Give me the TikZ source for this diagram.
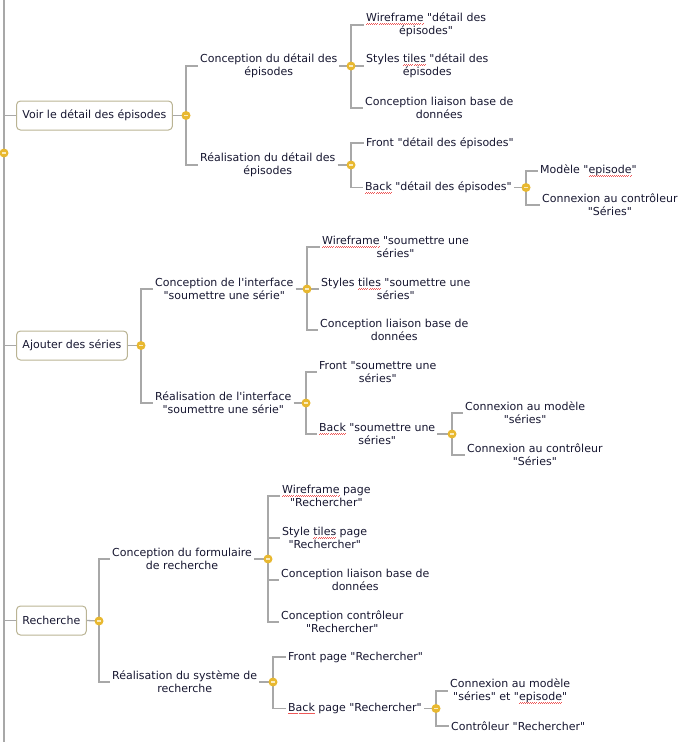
\documentclass[tikz,border=0pt]{standalone}
\usepackage{fontspec}
\setmainfont{DejaVu Sans}[Ligatures=TeXOff]
\usetikzlibrary{backgrounds}
\definecolor{branchgray}{RGB}{168,168,168}
\definecolor{boxline}{RGB}{186,180,148}
\definecolor{knobfill}{RGB}{232,184,48}
\definecolor{knobbar}{RGB}{250,236,190}
\definecolor{inktext}{RGB}{22,22,48}
\definecolor{spellred}{RGB}{238,88,88}
\newsavebox\fautebox
\newcommand\faute[1]{\sbox\fautebox{#1}\leavevmode\rlap{\hbox to\wd\fautebox{\color{spellred}\xleaders\hbox{\rule[-3.3pt]{1pt}{0.9pt}\rule[-2.5pt]{1pt}{0.9pt}}\hfil}}\usebox\fautebox}
\begin{document}
\begin{tikzpicture}[x=1pt,y=-1pt,
  topic/.style={draw=boxline, line width=1pt, rounded corners=4pt, fill=white, anchor=west, minimum height=29pt, inner xsep=6pt, font=\fontsize{11}{13}\selectfont, text=inktext},
  leaf/.style={anchor=west, align=center, inner xsep=2pt, inner ysep=0pt, font=\fontsize{11}{13}\selectfont, text=inktext},
  knob/.style={circle, fill=knobfill, minimum size=9pt, inner sep=0pt, path picture={\fill[knobbar] ([xshift=-2pt,yshift=-0.6pt]path picture bounding box.center) rectangle ++(4pt,1.2pt);}},
  branch/.style={draw=branchgray, line width=1.3pt}]
\useasboundingbox (0,0) rectangle (687,742);
\coordinate (rtop) at (4,-2);
\coordinate (rbot) at (4,744);
\node[knob] (k0) at (4,153) {};
\node[topic] (v1) at (16,115.5) {Voir le détail des épisodes};
\node[topic] (v2) at (16,345.5) {Ajouter des séries};
\node[topic] (v3) at (16,620.5) {Recherche};
\node[knob] (k1) at (186,115.5) {};
\node[knob] (k2) at (141,345.5) {};
\node[knob] (k3) at (99,621) {};
\node[leaf] (a1) at (198,66) {Conception du détail des\\épisodes};
\node[leaf] (a2) at (198,165) {Réalisation du détail des\\épisodes};
\node[knob] (k11) at (351,66) {};
\node[knob] (k12) at (351,165) {};
\node[leaf] (a11) at (364,25) {\faute{Wireframe} "détail des\\épisodes"};
\node[leaf] (a12) at (364,66) {Styles \faute{tiles} "détail des\\épisodes};
\node[leaf] (a13) at (363,108) {Conception liaison base de\\données};
\node[leaf] (a21) at (364,143) {Front "détail des épisodes"};
\node[leaf] (a22) at (363,187.5) {\faute{Back} "détail des épisodes"};
\node[knob] (k122) at (526,187.5) {};
\node[leaf] (a221) at (538,171) {Modèle "\faute{episode}"};
\node[leaf] (a222) at (540,205) {Connexion au contrôleur\\"Séries"};
\node[leaf] (b1) at (153,289) {Conception de l'interface\\"soumettre une série"};
\node[leaf] (b2) at (153,403) {Réalisation de l'interface\\"soumettre une série"};
\node[knob] (k21) at (307,289) {};
\node[knob] (k22) at (306,403) {};
\node[leaf] (b11) at (320,247) {\faute{Wireframe} "soumettre une\\séries"};
\node[leaf] (b12) at (319,289) {Styles \faute{tiles} "soumettre une\\séries"};
\node[leaf] (b13) at (318,330) {Conception liaison base de\\données};
\node[leaf] (b21) at (317,372) {Front "soumettre une\\séries"};
\node[leaf] (b22) at (317,434) {\faute{Back} "soumettre une\\séries"};
\node[knob] (k222) at (452,434) {};
\node[leaf] (b221) at (463,413) {Connexion au modèle\\"séries"};
\node[leaf] (b222) at (465,455) {Connexion au contrôleur\\"Séries"};
\node[leaf] (c1) at (110,559) {Conception du formulaire\\de recherche};
\node[leaf] (c2) at (110,682) {Réalisation du système de\\recherche};
\node[knob] (k31) at (268,559) {};
\node[knob] (k32) at (273,682) {};
\node[leaf] (c11) at (280,496) {\faute{Wireframe} page\\"Rechercher"};
\node[leaf] (c12) at (280,538) {Style \faute{tiles} page\\"Rechercher"};
\node[leaf] (c13) at (279,580) {Conception liaison base de\\données};
\node[leaf] (c14) at (279,622) {Conception contrôleur\\"Rechercher"};
\node[leaf] (c21) at (286,657) {Front page "Rechercher"};
\node[leaf] (c22) at (286,708.5) {\faute{Back} page "Rechercher"};
\node[knob] (k322) at (436,708.5) {};
\node[leaf] (c221) at (448,691) {Connexion au modèle\\"séries" et "\faute{episode}"};
\node[leaf] (c222) at (449,726) {Contrôleur "Rechercher"};
\begin{scope}[on background layer]
\path[branch] (rtop) -- (rbot);
\path[branch] (v1.west -| rtop) -- (v1.west);
\path[branch] (v2.west -| rtop) -- (v2.west);
\path[branch] (v3.west -| rtop) -- (v3.west);
\path[branch] (v1.east) -- (k1.center);
\path[branch] (v2.east) -- (k2.center);
\path[branch] (v3.east) -- (k3.center);
\path[branch] (k1.center) |- (a1.west);
\path[branch] (k1.center) |- (a2.west);
\path[branch] (a1.east) -- (k11.center);
\path[branch] (a2.east) -- (k12.center);
\path[branch] (k11.center) |- (a11.west);
\path[branch] (k11.center) |- (a12.west);
\path[branch] (k11.center) |- (a13.west);
\path[branch] (k12.center) |- (a21.west);
\path[branch] (k12.center) |- (a22.west);
\path[branch] (a22.east) -- (k122.center);
\path[branch] (k122.center) |- (a221.west);
\path[branch] (k122.center) |- (a222.west);
\path[branch] (k2.center) |- (b1.west);
\path[branch] (k2.center) |- (b2.west);
\path[branch] (b1.east) -- (k21.center);
\path[branch] (b2.east) -- (k22.center);
\path[branch] (k21.center) |- (b11.west);
\path[branch] (k21.center) |- (b12.west);
\path[branch] (k21.center) |- (b13.west);
\path[branch] (k22.center) |- (b21.west);
\path[branch] (k22.center) |- (b22.west);
\path[branch] (b22.east) -- (k222.center);
\path[branch] (k222.center) |- (b221.west);
\path[branch] (k222.center) |- (b222.west);
\path[branch] (k3.center) |- (c1.west);
\path[branch] (k3.center) |- (c2.west);
\path[branch] (c1.east) -- (k31.center);
\path[branch] (c2.east) -- (k32.center);
\path[branch] (k31.center) |- (c11.west);
\path[branch] (k31.center) |- (c12.west);
\path[branch] (k31.center) |- (c13.west);
\path[branch] (k31.center) |- (c14.west);
\path[branch] (k32.center) |- (c21.west);
\path[branch] (k32.center) |- (c22.west);
\path[branch] (c22.east) -- (k322.center);
\path[branch] (k322.center) |- (c221.west);
\path[branch] (k322.center) |- (c222.west);
\end{scope}
\end{tikzpicture}
\end{document}
